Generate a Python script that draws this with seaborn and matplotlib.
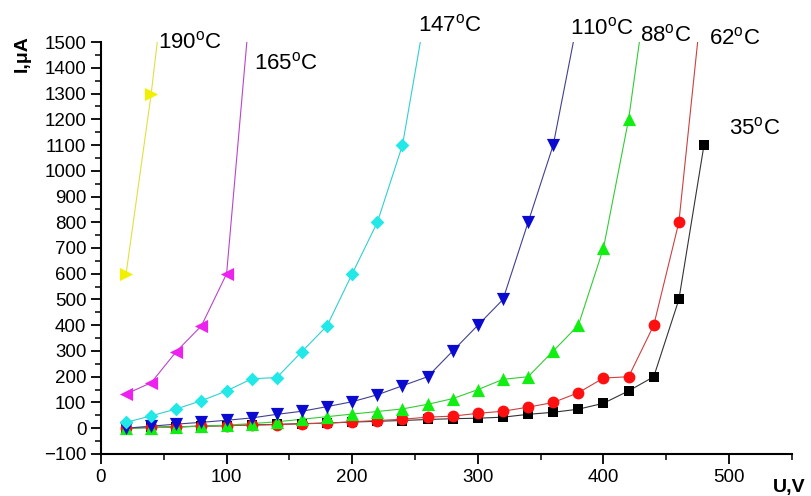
import matplotlib
matplotlib.use("Agg")
import matplotlib.pyplot as plt
import seaborn as sns
from matplotlib.ticker import MultipleLocator

# Data (U in V, I in uA); last point of some series is above 1500 (line runs off the top)
u_35 = [20, 40, 60, 80, 100, 120, 140, 160, 180, 200, 220, 240, 260, 280, 300, 320, 340, 360, 380, 400, 420, 440, 460, 480]
i_35 = [0, 3, 5, 8, 10, 13, 15, 18, 20, 24, 27, 30, 34, 37, 39, 43, 54, 62, 74, 97, 145, 200, 500, 1100]

u_62 = [20, 40, 60, 80, 100, 120, 140, 160, 180, 200, 220, 240, 260, 280, 300, 320, 340, 360, 380, 400, 420, 440, 460, 476]
i_62 = [2, 4, 6, 8, 10, 12, 14, 17, 20, 25, 30, 35, 43, 47, 58, 66, 82, 100, 138, 195, 200, 400, 800, 1550]

u_88 = [20, 40, 60, 80, 100, 120, 140, 160, 180, 200, 220, 240, 260, 280, 300, 320, 340, 360, 380, 400, 420, 430]
i_88 = [0, 2, 5, 8, 12, 18, 25, 35, 45, 55, 65, 75, 93, 115, 150, 190, 200, 300, 400, 700, 1200, 1550]

u_110 = [20, 40, 60, 80, 100, 120, 140, 160, 180, 200, 220, 240, 260, 280, 300, 320, 340, 360, 380]
i_110 = [0, 8, 16, 23, 31, 40, 54, 66, 84, 103, 130, 165, 200, 300, 400, 500, 800, 1100, 1600]

u_147 = [20, 40, 60, 80, 100, 120, 140, 160, 180, 200, 220, 240, 256]
i_147 = [23, 48, 75, 107, 145, 192, 197, 298, 398, 600, 800, 1100, 1550]

u_165 = [20, 40, 60, 80, 100, 117]
i_165 = [133, 177, 298, 398, 600, 1550]

u_190 = [20, 40, 46]
i_190 = [600, 1300, 1550]

labels = ["35", "62", "88", "110", "147", "165", "190"]

series = [
    (u_35, i_35, "#000000", "#333333", "s", 7),
    (u_62, i_62, "#ff1010", "#cc4040", "o", 8.5),
    (u_88, i_88, "#11ee11", "#33cc33", "^", 9.5),
    (u_110, i_110, "#0a0ad0", "#404090", "v", 9.5),
    (u_147, i_147, "#22e8e8", "#30d0d0", "D", 7),
    (u_165, i_165, "#ee22ee", "#bb44cc", "<", 9.5),
    (u_190, i_190, "#f0f000", "#e0e040", ">", 9.5),
]

label_pos = [(500, 1165), (484, 1515), (429, 1526), (373, 1553), (252, 1565), (122, 1418), (45, 1500)]

sns.set_style("ticks")
plt.rcParams['font.family'] = ['Liberation Sans', 'DejaVu Sans']
plt.rcParams['mathtext.fontset'] = 'custom'
plt.rcParams['mathtext.rm'] = 'Liberation Sans'
for k in ['text.color', 'xtick.color', 'ytick.color', 'axes.edgecolor', 'axes.labelcolor']:
    plt.rcParams[k] = 'black'

fig = plt.figure(figsize=(8.11, 4.96), dpi=100)
ax = fig.add_axes([0.1245, 0.0847, 0.852, 0.8306])

for (u, i, mc, lc, mk, ms) in series:
    sns.lineplot(x=u, y=i, ax=ax, color=lc, linewidth=0.8, zorder=2)
    sns.scatterplot(x=u, y=i, ax=ax, color=mc, marker=mk, s=ms ** 2, linewidth=0, zorder=3)

for lab, (x, y) in zip(labels, label_pos):
    ax.text(x, y, lab + r"$^\mathrm{o}$C", fontsize=16, ha="left", va="center", clip_on=False)

ax.set_xlim(0, 550)
ax.set_ylim(-100, 1500)
ax.xaxis.set_major_locator(MultipleLocator(100))
ax.xaxis.set_minor_locator(MultipleLocator(50))
ax.yaxis.set_major_locator(MultipleLocator(100))
ax.yaxis.set_minor_locator(MultipleLocator(50))
ax.set_xticks([0, 100, 200, 300, 400, 500])
ax.tick_params(axis="both", which="major", length=7, width=1.3, labelsize=13.5, direction="out")
ax.tick_params(axis="both", which="minor", length=4, width=1.1, direction="out")
sns.despine(ax=ax)
for s in ["left", "bottom"]:
    ax.spines[s].set_linewidth(1.5)
ax.set_xlabel("")
ax.set_ylabel("")

fig.text(0.027, 0.93, "I,μA", rotation=90, fontsize=14, fontweight="bold", ha="center", va="top")
fig.text(0.973, 0.0, "U,V", fontsize=14, fontweight="bold", ha="center", va="bottom")

fig.savefig("out.png", dpi=100)
